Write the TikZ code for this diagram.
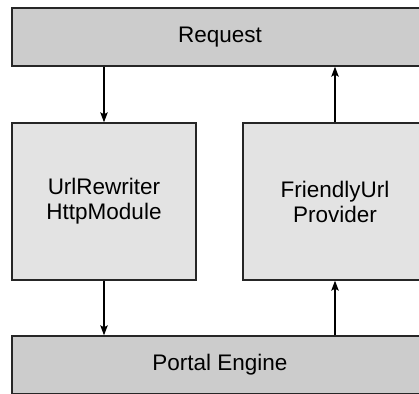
\documentclass[tikz,border=0pt]{standalone}
\usepackage{fontspec}
\setmainfont{Liberation Sans}
\usetikzlibrary{arrows.meta,positioning}

\begin{document}
\begin{tikzpicture}[x=1pt, y=1pt, >={Stealth[length=10pt, width=7.5pt, inset=2pt]},
  layer/.style={draw=black!85, line width=1.4pt, fill=black!20,
    minimum width=416pt, minimum height=58pt, font=\fontsize{22.5}{25}\selectfont},
  part/.style={draw=black!85, line width=1.4pt, fill=black!11,
    minimum width=184pt, minimum height=157pt, align=center,
    font=\fontsize{22.5}{25}\selectfont},
  flow/.style={->, line width=1.2pt}]
  \useasboundingbox (0,0) rectangle (419,393);
  \clip (0,0) rectangle (419,393);
  \node[layer] (req) at (220,356) {Request};
  \node[part] (rewriter) at (104,191.5) {UrlRewriter\\HttpModule};
  \node[part] (provider) at (335,191.5) {FriendlyUrl\\Provider};
  \node[layer] (engine) at (220,28) {Portal Engine};
  \draw[flow] (rewriter.north |- req.south) -- (rewriter.north);
  \draw[flow] (rewriter.south) -- (rewriter.south |- engine.north);
  \draw[flow] (provider.south |- engine.north) -- (provider.south);
  \draw[flow] (provider.north) -- (provider.north |- req.south);
\end{tikzpicture}
\end{document}
